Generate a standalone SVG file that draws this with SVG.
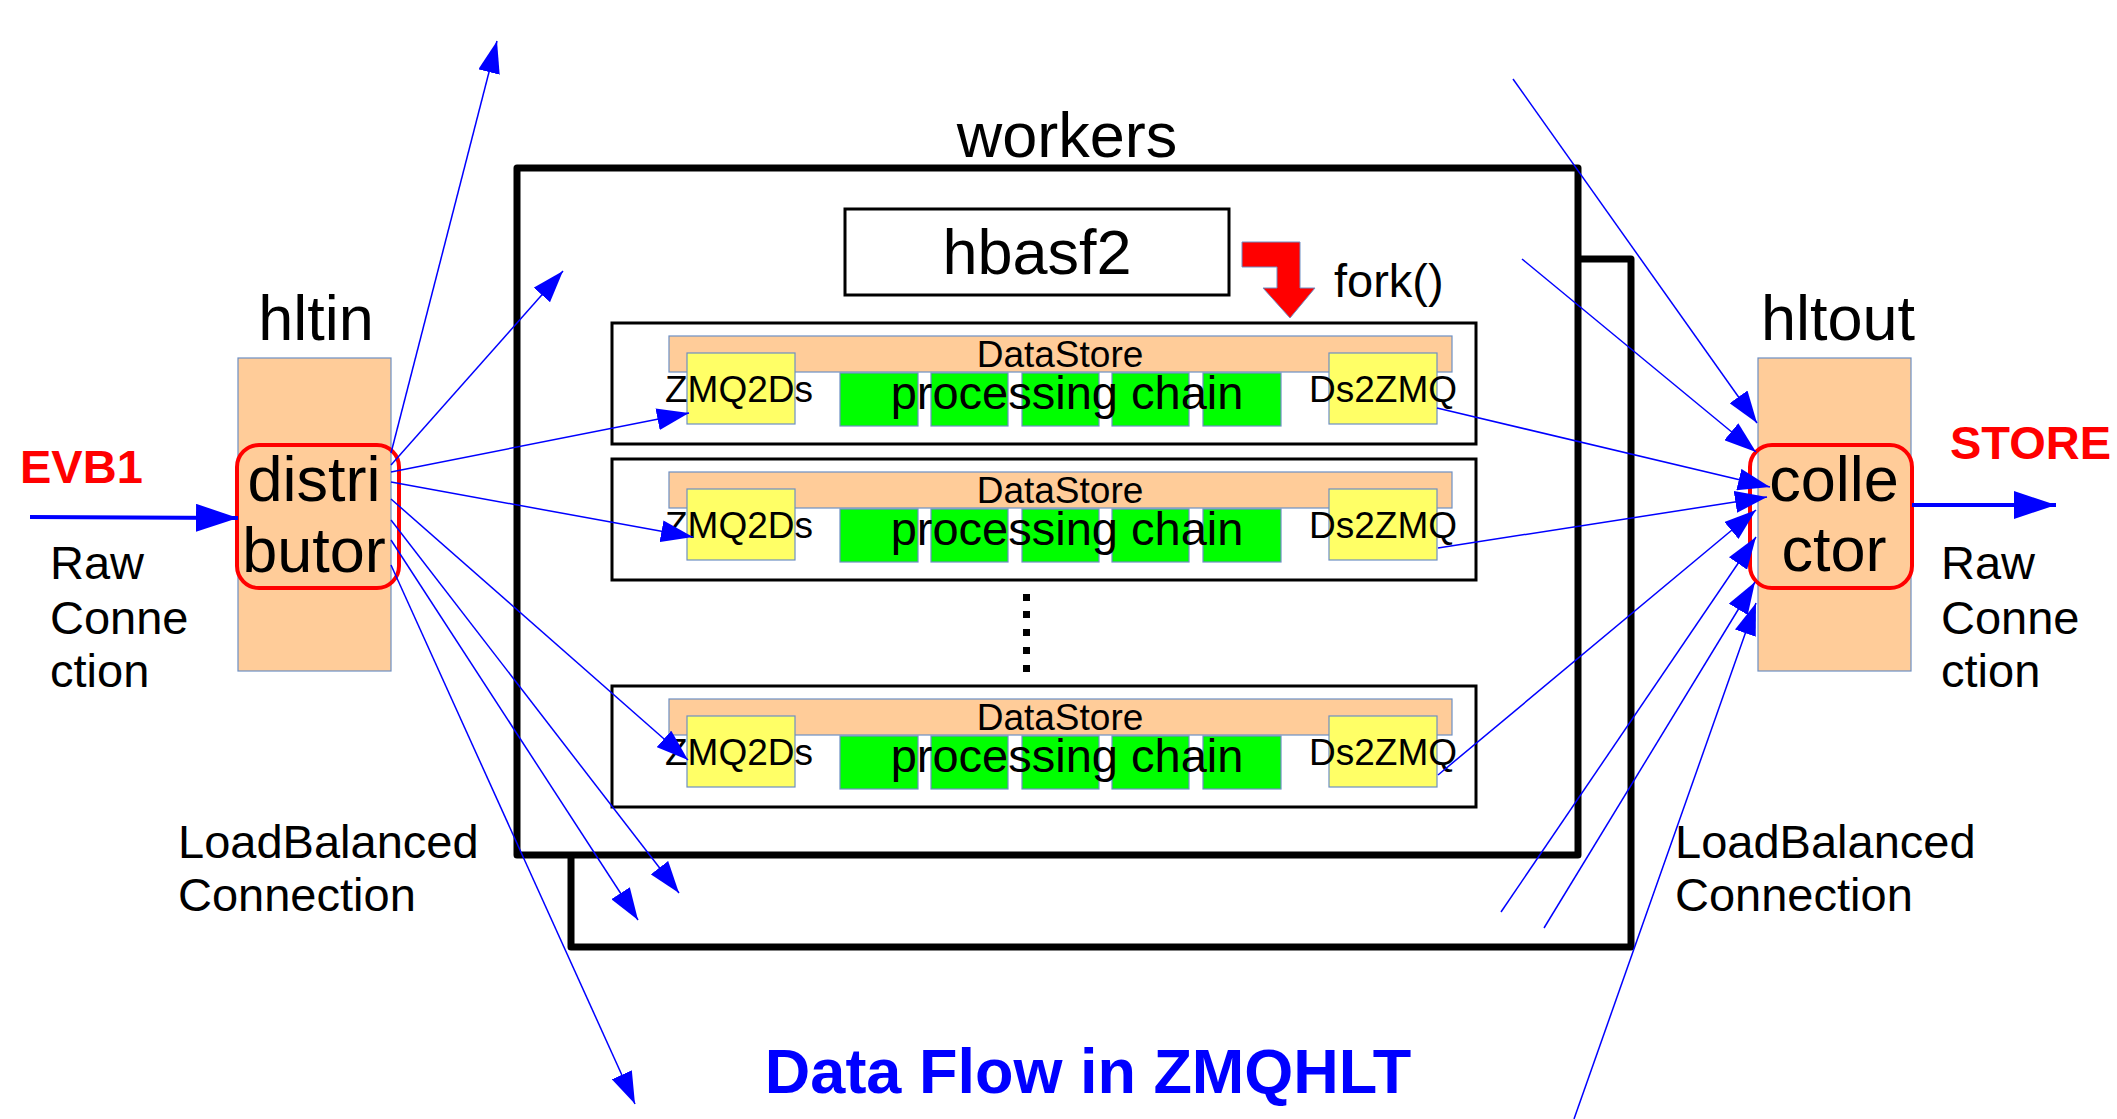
<svg xmlns="http://www.w3.org/2000/svg" width="2117" height="1119" viewBox="0 0 2117 1119">
<style>
text{font-family:"Liberation Sans",Arial,sans-serif;fill:#000}
.frame{fill:none;stroke:#000;stroke-width:7;stroke-linejoin:round}
.wbox{fill:#fff;stroke:#000;stroke-width:3}
.ds{fill:#ffcc99;stroke:#6d8fc4;stroke-width:1.2}
.yel{fill:#ffff66;stroke:#6d8fc4;stroke-width:1.2}
.grn{fill:#00ff00;stroke:#6d8fc4;stroke-width:1.2}
.rr{fill:none;stroke:#ff0000;stroke-width:4}
.t37{font-size:37px}
.t47{font-size:47px}
.t63{font-size:63px}
.mid{text-anchor:middle}
.red{fill:#ff0000;font-weight:bold}
.conn{stroke:#0000ff;stroke-width:1.5;fill:none;marker-end:url(#ah)}
.thick{stroke:#0000ff;stroke-width:4;fill:none;marker-end:url(#ahb)}
</style>
<defs>
<marker id="ah" markerWidth="32" markerHeight="22" refX="32" refY="11" orient="auto" markerUnits="userSpaceOnUse"><path d="M0,0 L32,11 L0,22 Z" fill="#0000ff"/></marker>
<marker id="ahb" markerWidth="42" markerHeight="28" refX="42" refY="14" orient="auto" markerUnits="userSpaceOnUse"><path d="M0,0 L42,14 L0,28 Z" fill="#0000ff"/></marker>
</defs>
<rect width="2117" height="1119" fill="#fff"/>

<g id="workers-back">
<rect class="frame" x="571" y="259" width="1060" height="688"/>
</g>
<g id="workers">
<rect class="frame" x="517" y="168" width="1061" height="687" style="fill:#fff"/>
<text class="t63 mid" x="1067" y="157">workers</text>
</g>

<g id="hbasf2">
<rect x="845" y="209" width="384" height="86" fill="#fff" stroke="#000" stroke-width="3"/>
<text class="t63 mid" x="1037" y="274">hbasf2</text>
</g>

<g id="fork">
<polygon points="1242,242 1300,242 1300,288 1315,288 1290,318 1263,288 1277,288 1277,267 1242,267" fill="#ff0000" stroke="#6d8fc4" stroke-width="1"/>
<text class="t47" x="1334" y="297">fork()</text>
</g>

<g id="worker1" transform="translate(0,323)">
<rect class="wbox" x="612" y="0" width="864" height="121"/>
<rect class="ds" x="669" y="13" width="783" height="36"/>
<text class="t37 mid" x="1060" y="44">DataStore</text>
<rect class="yel" x="687" y="30" width="108" height="71"/>
<rect class="yel" x="1329" y="30" width="108" height="71"/>
<rect class="grn" x="840" y="50" width="78" height="53"/>
<rect class="grn" x="931" y="50" width="77" height="53"/>
<rect class="grn" x="1022" y="50" width="77" height="53"/>
<rect class="grn" x="1112" y="50" width="77" height="53"/>
<rect class="grn" x="1203" y="50" width="78" height="53"/>
<text class="t37" x="665" y="79">ZMQ2Ds</text>
<text class="t37" x="1309" y="79">Ds2ZMQ</text>
<text class="t47 mid" x="1067" y="86">processing chain</text>
</g>

<g id="worker2" transform="translate(0,459)">
<rect class="wbox" x="612" y="0" width="864" height="121"/>
<rect class="ds" x="669" y="13" width="783" height="36"/>
<text class="t37 mid" x="1060" y="44">DataStore</text>
<rect class="yel" x="687" y="30" width="108" height="71"/>
<rect class="yel" x="1329" y="30" width="108" height="71"/>
<rect class="grn" x="840" y="50" width="78" height="53"/>
<rect class="grn" x="931" y="50" width="77" height="53"/>
<rect class="grn" x="1022" y="50" width="77" height="53"/>
<rect class="grn" x="1112" y="50" width="77" height="53"/>
<rect class="grn" x="1203" y="50" width="78" height="53"/>
<text class="t37" x="665" y="79">ZMQ2Ds</text>
<text class="t37" x="1309" y="79">Ds2ZMQ</text>
<text class="t47 mid" x="1067" y="86">processing chain</text>
</g>

<g id="dots">
<rect x="1023" y="594" width="7" height="7"/>
<rect x="1023" y="611" width="7" height="7"/>
<rect x="1023" y="629" width="7" height="7"/>
<rect x="1023" y="647" width="7" height="7"/>
<rect x="1023" y="665" width="7" height="7"/>
</g>

<g id="worker3" transform="translate(0,686)">
<rect class="wbox" x="612" y="0" width="864" height="121"/>
<rect class="ds" x="669" y="13" width="783" height="36"/>
<text class="t37 mid" x="1060" y="44">DataStore</text>
<rect class="yel" x="687" y="30" width="108" height="71"/>
<rect class="yel" x="1329" y="30" width="108" height="71"/>
<rect class="grn" x="840" y="50" width="78" height="53"/>
<rect class="grn" x="931" y="50" width="77" height="53"/>
<rect class="grn" x="1022" y="50" width="77" height="53"/>
<rect class="grn" x="1112" y="50" width="77" height="53"/>
<rect class="grn" x="1203" y="50" width="78" height="53"/>
<text class="t37" x="665" y="79">ZMQ2Ds</text>
<text class="t37" x="1309" y="79">Ds2ZMQ</text>
<text class="t47 mid" x="1067" y="86">processing chain</text>
</g>

<g id="hltin">
<text class="t63 mid" x="316" y="340">hltin</text>
<rect class="ds" x="238" y="358" width="153" height="313"/>
<rect class="rr" x="237" y="445" width="162" height="143" rx="22"/>
<text class="t63 mid" x="314" y="501">distri</text>
<text class="t63 mid" x="314" y="572">butor</text>
</g>

<g id="hltout">
<text class="t63 mid" x="1838" y="340">hltout</text>
<rect class="ds" x="1758" y="358" width="153" height="313"/>
<rect class="rr" x="1750" y="445" width="162" height="143" rx="22"/>
<text class="t63 mid" x="1834" y="501">colle</text>
<text class="t63 mid" x="1834" y="571">ctor</text>
</g>

<g id="labels">
<text class="t47 red" x="20" y="483">EVB1</text>
<text class="t47" x="50" y="579">Raw</text>
<text class="t47" x="50" y="634">Conne</text>
<text class="t47" x="50" y="687">ction</text>
<text class="t47 red" x="1950" y="459">STORE</text>
<text class="t47" x="1941" y="579">Raw</text>
<text class="t47" x="1941" y="634">Conne</text>
<text class="t47" x="1941" y="687">ction</text>
<text class="t47" x="178" y="858">LoadBalanced</text>
<text class="t47" x="178" y="911">Connection</text>
<text class="t47" x="1675" y="858">LoadBalanced</text>
<text class="t47" x="1675" y="911">Connection</text>
<text class="t63 mid" x="1088" y="1093" style="fill:#0000ff;font-weight:bold">Data Flow in ZMQHLT</text>
</g>

<g id="connectors">
<line class="thick" x1="30" y1="517" x2="238" y2="518"/>
<line class="thick" x1="1912" y1="505" x2="2056" y2="505"/>
<line class="conn" x1="391" y1="453" x2="497" y2="41"/>
<line class="conn" x1="391" y1="465" x2="563" y2="271"/>
<line class="conn" x1="391" y1="472" x2="689" y2="413"/>
<line class="conn" x1="391" y1="482" x2="693" y2="537"/>
<line class="conn" x1="391" y1="499" x2="688" y2="760"/>
<line class="conn" x1="391" y1="520" x2="679" y2="893"/>
<line class="conn" x1="391" y1="540" x2="638" y2="920"/>
<line class="conn" x1="391" y1="565" x2="635" y2="1104"/>
<line class="conn" x1="1513" y1="79" x2="1757" y2="423"/>
<line class="conn" x1="1522" y1="259" x2="1756" y2="452"/>
<line class="conn" x1="1437" y1="408" x2="1770" y2="487"/>
<line class="conn" x1="1438" y1="548" x2="1767" y2="497"/>
<line class="conn" x1="1438" y1="775" x2="1756" y2="510"/>
<line class="conn" x1="1501" y1="912" x2="1756" y2="537"/>
<line class="conn" x1="1544" y1="928" x2="1755" y2="582"/>
<line class="conn" x1="1574" y1="1119" x2="1756" y2="603"/>
</g>
</svg>
